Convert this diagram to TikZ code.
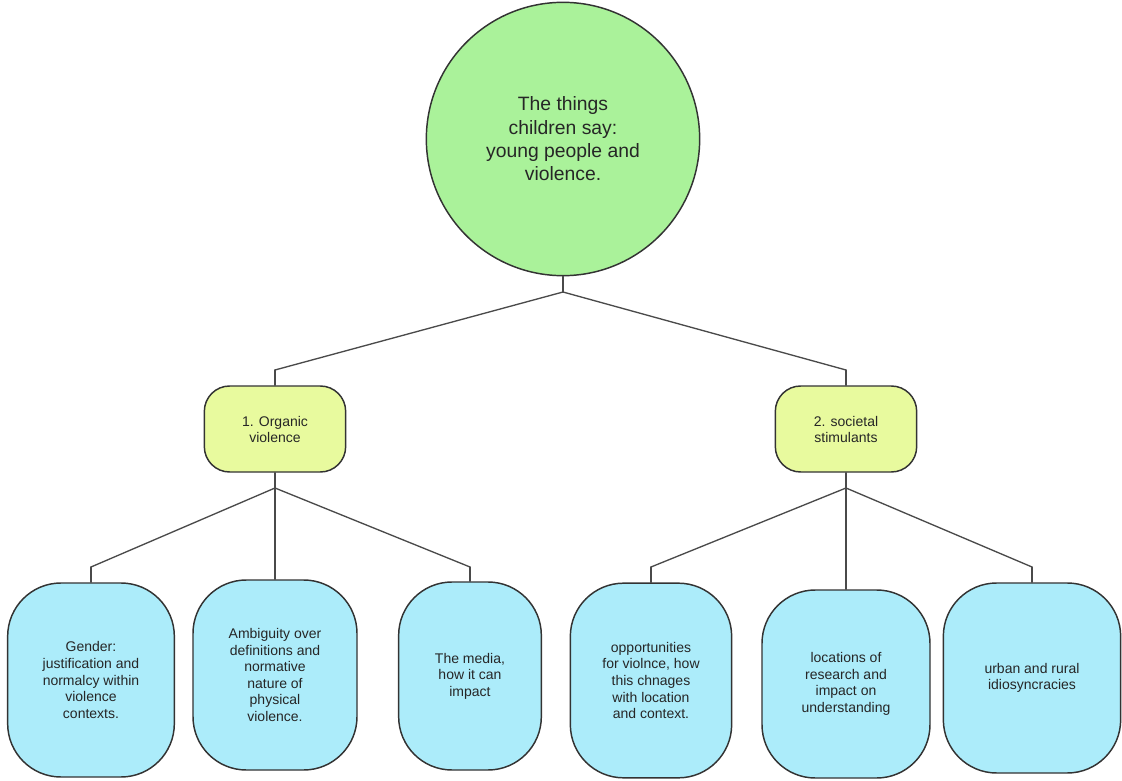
\documentclass[tikz,border=0pt]{standalone}
\usepackage{fontspec}
\setmainfont{Liberation Sans}
\usetikzlibrary{positioning}
\definecolor{rootgreen}{HTML}{AAF29A}
\definecolor{midyellow}{HTML}{E8FA9E}
\definecolor{leafblue}{HTML}{ACECFA}
\definecolor{edgegray}{HTML}{4A4A4A}

\begin{document}
\begin{tikzpicture}[x=0.75pt, y=-0.75pt,
	topic/.style={circle, draw=black!80, line width=1.1pt, fill=rootgreen, minimum size=205pt, inner sep=0pt, align=center, font=\fontsize{14.5}{17.5}\selectfont, text=black!85},
	theme/.style={rectangle, rounded corners=19pt, draw=black!80, line width=1.1pt, fill=midyellow, minimum width=106pt, minimum height=64.5pt, inner sep=0pt, align=center, font=\fontsize{10.5}{12}\selectfont, text=black!85},
	leaf/.style={rectangle, rounded corners=40pt, draw=black!80, line width=1.1pt, fill=leafblue, inner sep=0pt, align=center, font=\fontsize{10.5}{12.4}\selectfont, text=black!85},
	link/.style={draw=edgegray, line width=1pt, line cap=round}]
	\useasboundingbox (0,0) rectangle (1122,781);

	\node[topic] (0) at (563,139) {The things\\children say:\\young people and\\violence.};

	\node[theme] (1) at (275,429) {1. Organic\\violence};
	\node[theme] (2) at (846,429) {2. societal\\stimulants};

	\node[leaf, minimum width=125pt, minimum height=145.5pt] (11) at (91,680) {Gender:\\justification and\\normalcy within\\violence\\contexts.};
	\node[leaf, minimum width=123pt, minimum height=142.5pt] (12) at (275,675) {Ambiguity over\\definitions and\\normative\\nature of\\physical\\violence.};
	\node[leaf, minimum width=107pt, minimum height=141pt] (13) at (470,676) {The media,\\how it can\\impact};
	\node[leaf, minimum width=121pt, minimum height=146pt] (21) at (651,680.5) {opportunities\\for violnce, how\\this chnages\\with location\\and context.};
	\node[leaf, minimum width=126pt, minimum height=141pt] (22) at (846,684) {locations of\\research and\\impact on\\understanding};
	\node[leaf, minimum width=133pt, minimum height=142.5pt] (23) at (1032,678) {urban and rural\\idiosyncracies};

	\coordinate (f0) at (563,292);
	\coordinate (k1) at (275,370);
	\coordinate (k2) at (846,370);
	\coordinate (f1) at (275,488);
	\coordinate (f2) at (846,488);
	\coordinate (k11) at (91,567);
	\coordinate (k13) at (470,567);
	\coordinate (k21) at (651,567);
	\coordinate (k23) at (1032,567);

	\path[link]
	(0) edge (f0)
	(f0) edge (k1)
	(f0) edge (k2)
	(k1) edge (1)
	(k2) edge (2)
	(1) edge (f1)
	(2) edge (f2)
	(f1) edge (k11)
	(k11) edge (11)
	(f1) edge (12)
	(f1) edge (k13)
	(k13) edge (13)
	(f2) edge (k21)
	(k21) edge (21)
	(f2) edge (22)
	(f2) edge (k23)
	(k23) edge (23);
\end{tikzpicture}
\end{document}
